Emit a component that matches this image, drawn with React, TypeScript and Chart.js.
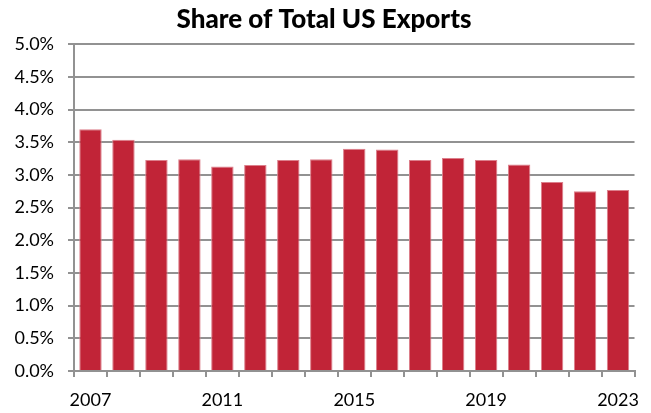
import React, { useEffect, useRef } from "react";
import { Chart, registerables } from "chart.js";

Chart.register(...registerables);

const years = ["2007","2008","2009","2010","2011","2012","2013","2014","2015","2016","2017","2018","2019","2020","2021","2022","2023"];
const shares = [3.70, 3.54, 3.23, 3.24, 3.13, 3.15, 3.23, 3.24, 3.40, 3.39, 3.23, 3.26, 3.23, 3.16, 2.89, 2.75, 2.77];
const titleText = "Share of Total US Exports";

export default function App() {
  const ref = useRef<HTMLCanvasElement>(null);
  useEffect(() => {
    document.body.style.margin = "0";
    const ctx = ref.current!;
    const font = "Lato, 'Open Sans', sans-serif";
    const chart = new Chart(ctx, {
      type: "bar",
      data: {
        labels: years,
        datasets: [{
          data: shares,
          backgroundColor: "#c12437",
          borderColor: "#dc7f8b",
          borderWidth: 1,
          borderSkipped: "bottom",
          categoryPercentage: 1,
          barPercentage: 0.68,
        }],
      },
      options: {
        animation: false,
        responsive: false,
        maintainAspectRatio: false,
        layout: { padding: { left: 0, right: 3, top: 0, bottom: 0 } },
        plugins: {
          legend: { display: false },
          tooltip: { enabled: false },
          title: {
            display: true,
            text: titleText,
            color: "#000",
            font: { family: font, size: 26, weight: 900 },
            padding: { top: 4, bottom: 9 },
          },
        },
        scales: {
          x: {
            grid: { offset: true, drawOnChartArea: false, drawTicks: true, tickLength: 6, color: "#929292", lineWidth: 2 },
            border: { display: true, color: "#929292", width: 2 },
            ticks: {
              autoSkip: false,
              maxRotation: 0,
              color: "#000",
              font: { family: font, size: 18 },
              padding: 12,
              callback: (_v: any, i: number) => (i % 4 === 0 ? years[i] : ""),
            },
            afterFit: (s: any) => { s.height = 42; },
          },
          y: {
            min: 0,
            max: 5,
            grid: { color: "#929292", lineWidth: 2, tickLength: 6 },
            border: { display: true, color: "#929292", width: 2 },
            ticks: {
              stepSize: 0.5,
              color: "#000",
              font: { family: font, size: 18 },
              padding: 14,
              callback: (v: any) => Number(v).toFixed(1) + "%",
            },
            afterFit: (s: any) => { s.width = 74; },
          },
        },
      },
    });
    return () => chart.destroy();
  }, []);
  return <canvas ref={ref} width={651} height={413} style={{ display: "block" }} />;
}
